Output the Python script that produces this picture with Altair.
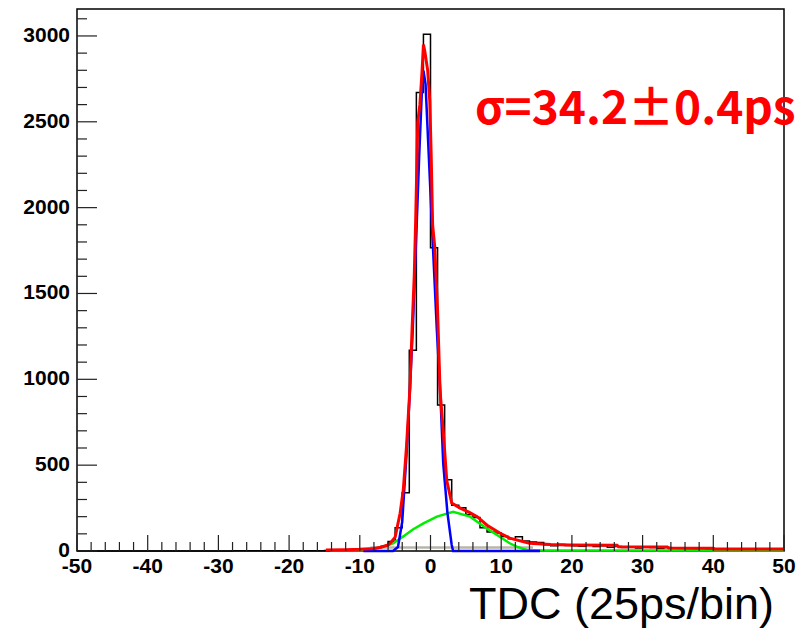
import altair as alt
import pandas as pd

# ---------------- data ----------------
hist_left_edges = list(range(-50, 50))
hist_counts = (
    [0] * 22
    + [1, 2, 1, 2, 1, 1, 2, 1, 2, 1, 2, 1, 2]
    + [3, 4, 5, 6, 7, 9, 12, 16, 28, 55, 135, 340, 1170, 2670, 3010]
    + [1767, 850, 415, 267, 252, 212, 195, 135, 110, 105,
       85, 72, 83, 58, 52, 50, 36, 30, 38, 32,
       30, 28, 35, 26, 30, 22, 26, 20, 22, 18,
       24, 20, 15, 21, 18, 15, 13, 11, 14, 10,
       11, 12, 8, 10, 9, 11, 7, 9, 8, 10]
)

red_x = [-14.8, -12, -10, -8, -7, -6, -5.7, -5, -4.3, -3.85, -3.4, -2.9, -2.6, -2.3,
         -2.1, -1.8, -1.5, -1.2, -1.0, -0.8, -0.4, -0.1, 0.1, 0.3, 0.6, 1.0, 1.35,
         1.8, 2.3, 3.0, 4.2, 5.5, 6.6, 8, 9.8, 11.2, 14, 17, 19.7, 26.4, 26.6,
         33.5, 33.7, 40, 40.2, 50]
red_y = [6, 8, 10, 15, 22, 35, 46, 81, 220, 355, 605, 955, 1300, 1600,
         1920, 2500, 2600, 2790, 2950, 2910, 2800, 2620, 2300, 1900, 1770, 1400, 935,
         700, 410, 280, 250, 225, 200, 150, 105, 75, 45, 38, 35, 33, 25,
         24, 17, 16, 12, 12]

blue_x = [-9.5, -5.3, -4.6, -4.0, -3.4, -2.9, -2.5, -2.0, -1.6, -1.2, -1.0, -0.7,
          -0.35, 0.2, 0.6, 0.9, 1.35, 1.8, 2.4, 3.0, 3.2, 15.5]
blue_y = [0, 0, 23, 170, 560, 950, 1300, 1850, 2300, 2700, 2797, 2720,
          2400, 1900, 1550, 1285, 955, 510, 220, 35, 0, 0]

green_x = [-14.2, -9.5, -8, -6.7, -5.3, -3.85, -2.5, -1.0, 0.9, 3.2, 5.6, 7.9,
           9.8, 11.2, 12.2, 13.6, 16, 50]
green_y = [4, 5, 12, 25, 45, 85, 125, 161, 200, 228, 200, 133,
           83, 45, 25, 6, 3, 3]

grey_x = [-8.5, 14.5]
grey_y = [20, 20]

x_major = list(range(-50, 51, 10))
x_minor = [v for v in range(-50, 51, 2) if v % 10 != 0]
y_major = list(range(0, 3001, 500))
y_minor = [v for v in range(0, 3101, 100) if v % 500 != 0]

annotation = "σ=34.2±0.4ps"
x_title = "TDC (25ps/bin)"

# ---------------- chart ----------------
W, H = 707, 542
x_scale = alt.Scale(domain=[-50, 50], nice=False, zero=False)
y_scale = alt.Scale(domain=[0, 3157], nice=False)

hist_df = pd.DataFrame({"x": hist_left_edges + [50],
                        "y": hist_counts + [hist_counts[-1]]})

hist = alt.Chart(hist_df).mark_line(
    color="black", strokeWidth=1.5, interpolate="step-after"
).encode(
    x=alt.X("x:Q", scale=x_scale, axis=None),
    y=alt.Y("y:Q", scale=y_scale, axis=None),
)


def curve(xs, ys, color, width):
    df = pd.DataFrame({"x": xs, "y": ys})
    return alt.Chart(df).mark_line(color=color, strokeWidth=width).encode(
        x=alt.X("x:Q", scale=x_scale, axis=None),
        y=alt.Y("y:Q", scale=y_scale, axis=None),
    )


grey = curve(grey_x, grey_y, "#b8b4ac", 2.5)
green = curve(green_x, green_y, "#00ee00", 2.5)
blue = curve(blue_x, blue_y, "#0000ff", 2.5)
red = curve(red_x, red_y, "#ff0000", 3)


def xticks(vals, length):
    return alt.Chart(pd.DataFrame({"t": vals})).mark_rule(color="#222", strokeWidth=1.2).encode(
        x=alt.X("t:Q", scale=x_scale, axis=None),
        y=alt.value(H), y2=alt.value(H - length),
    )


def yticks(vals, length):
    return alt.Chart(pd.DataFrame({"t": vals})).mark_rule(color="#222", strokeWidth=1.2).encode(
        y=alt.Y("t:Q", scale=y_scale, axis=None),
        x=alt.value(0), x2=alt.value(length),
    )


x_labels = alt.Chart(pd.DataFrame({"t": x_major, "s": [str(v) for v in x_major]})).mark_text(
    align="center", baseline="top", font="Liberation Sans", fontWeight="bold",
    fontSize=21, color="black"
).encode(x=alt.X("t:Q", scale=x_scale, axis=None), y=alt.value(H + 5), text="s:N")

y_labels = alt.Chart(pd.DataFrame({"t": y_major, "s": [str(v) for v in y_major]})).mark_text(
    align="right", baseline="middle", font="Liberation Sans", fontWeight="bold",
    fontSize=21, color="black"
).encode(y=alt.Y("t:Q", scale=y_scale, axis=None), x=alt.value(-7), text="s:N")

sigma_text = alt.Chart(pd.DataFrame({"t": [annotation]})).mark_text(
    align="left", baseline="alphabetic", font="Noto Sans CJK JP",
    fontWeight="bold", fontSize=46, color="#ff0000"
).encode(x=alt.value(398), y=alt.value(115), text="t:N")

title_text = alt.Chart(pd.DataFrame({"t": [x_title]})).mark_text(
    align="right", baseline="alphabetic", font="Liberation Sans",
    fontSize=45, color="black"
).encode(x=alt.value(697), y=alt.value(610), text="t:N")

chart = alt.layer(
    hist, grey, green, blue, red,
    xticks(x_major, 16), xticks(x_minor, 9),
    yticks(y_major, 20), yticks(y_minor, 10),
    x_labels, y_labels,
    sigma_text, title_text,
).properties(
    width=W, height=H,
    padding={"left": 69, "top": 1, "right": 12, "bottom": 78},
    autosize=alt.AutoSizeParams(type="none"),
).configure_view(stroke="black", strokeWidth=1.5)

chart.save("out.html", embed_options={"renderer": "svg", "actions": False})
